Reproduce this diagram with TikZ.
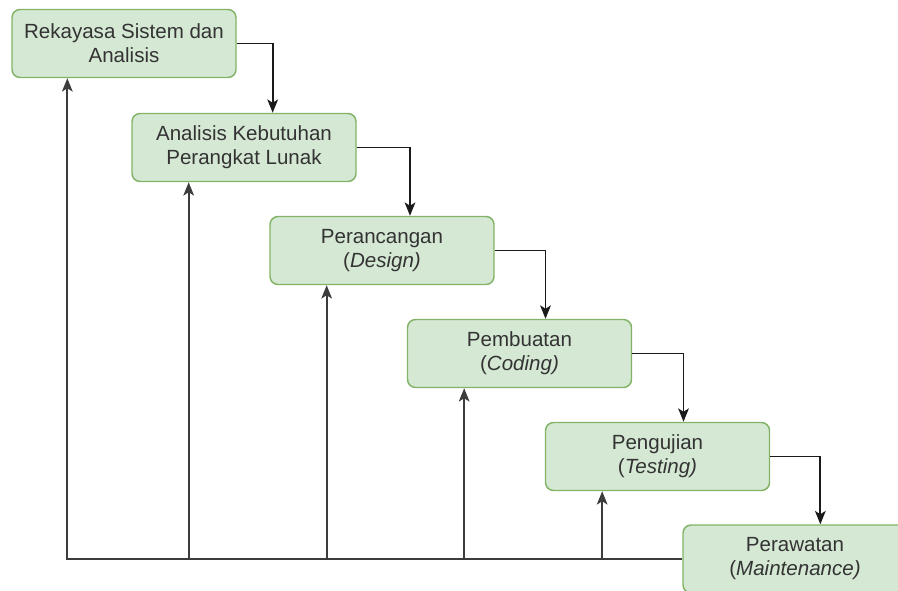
\documentclass[tikz,border=0pt]{standalone}
\usepackage{fontspec}
\setmainfont{Liberation Sans}
\usepackage{xcolor}
\usepackage{tikz}
\usetikzlibrary{positioning, arrows.meta, calc}
\definecolor{BoxGreen}{HTML}{D5E8D4}
\definecolor{BorderGreen}{HTML}{82B366}
\definecolor{TextGray}{HTML}{333333}
\definecolor{ArrowDark}{HTML}{1A1A1A}

\begin{document}
\begin{tikzpicture}[
  x=0.75pt, y=-0.75pt,
  >={Stealth[length=10pt, width=8pt, inset=2.5pt]},
  downarr/.style={->, line width=1.4pt, color=ArrowDark},
  uparr/.style={->, line width=1.4pt, color=ArrowDark!85},
  phase/.style={draw=BorderGreen, fill=BoxGreen, text=TextGray, line width=1.1pt,
               rounded corners=6pt, minimum width=168pt, minimum height=51pt,
               align=center, inner sep=0pt, font=\fontsize{15.4}{18}\selectfont},
]
  \useasboundingbox (0,0) rectangle (898,591);

% ===== Phases (waterfall steps) =====
  \node[phase] (RSA) at (124,43.5) {Rekayasa Sistem dan\\Analisis};
  \node[phase] (AKP) at (244,147.5) {Analisis Kebutuhan\\Perangkat Lunak};
  \node[phase] (PRC) at (382,250.5) {Perancangan\\(\textit{Design)}};
  \node[phase] (PBT) at (519.5,353.5) {Pembuatan\\(\textit{Coding)}};
  \node[phase] (PGJ) at (657.5,456.5) {Pengujian\\(\textit{Testing)}};
  \node[phase] (PRW) at (795,559) {Perawatan\\(\textit{Maintenance)}};

% ===== Forward arrows (down the steps) =====
  \draw[downarr] (RSA.east) -| ([xshift=21.5pt]AKP.north);
  \draw[downarr] (AKP.east) -| ([xshift=21pt]PRC.north);
  \draw[downarr] (PRC.east) -| ([xshift=19.5pt]PBT.north);
  \draw[downarr] (PBT.east) -| ([xshift=19.5pt]PGJ.north);
  \draw[downarr] (PGJ.east) -| ([xshift=19pt]PRW.north);

% ===== Feedback arrows (back up from maintenance) =====
  \draw[uparr] (PRW.west) -| ([xshift=-42.5pt]RSA.south);
  \draw[uparr] ([xshift=-41.5pt]AKP.south |- PRW.west) -- ([xshift=-41.5pt]AKP.south);
  \draw[uparr] ([xshift=-41.5pt]PRC.south |- PRW.west) -- ([xshift=-41.5pt]PRC.south);
  \draw[uparr] ([xshift=-41.5pt]PBT.south |- PRW.west) -- ([xshift=-41.5pt]PBT.south);
  \draw[uparr] ([xshift=-41.5pt]PGJ.south |- PRW.west) -- ([xshift=-41.5pt]PGJ.south);

\end{tikzpicture}
\end{document}
